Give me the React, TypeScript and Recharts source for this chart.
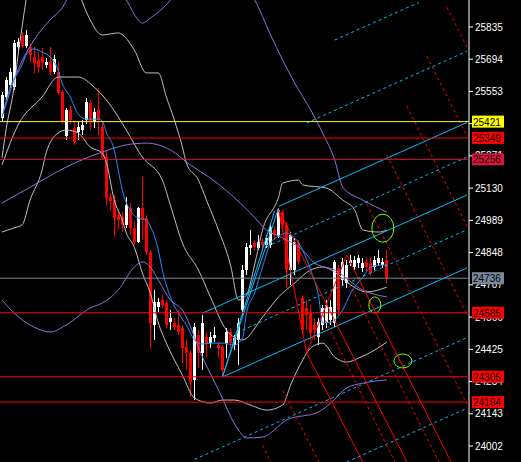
import { Bar, ComposedChart, Line, ReferenceDot, ReferenceLine, XAxis, YAxis } from "recharts";

// candles, one per slot (slot 0 = leftmost bar)
const opens = [
  25437, 25529, 25581, 25572, 25747, 25795, 25752, 25747, 25704, 25690,
  25704, 25669, 25682, 25638, 25638, 25550, 25358, 25472, 25393, 25375,
  25384, 25428, 25502, 25419, 25472, 25397, 25266, 25091, 25078, 25012,
  25004, 24969, 25043, 24956, 24894, 25043, 24999, 24851, 24531, 24610,
  24641, 24627, 24544, 24540, 24531, 24518, 24435, 24409, 24291, 24487,
  24409, 24479, 24452, 24474, 24444, 24435, 24452, 24501, 24444, 24466,
  24597, 24772, 24868, 24890, 24868, 24894, 24881, 24881, 24947, 24925,
  25026, 24969, 24772, 24772, 24890, 24649, 24606, 24584, 24531, 24479,
  24531, 24540, 24553, 24540, 24781, 24728, 24715, 24802, 24785, 24802,
  24781, 24807, 24802, 24785, 24802, 24794, 24816,
];
const highs = [
  25550, 25616, 25655, 25778, 25787, 25813, 25822, 25760, 25747, 25725,
  25743, 25699, 25747, 25712, 25682, 25559, 25480, 25489, 25419, 25419,
  25428, 25524, 25515, 25480, 25568, 25419, 25297, 25109, 25100, 25034,
  25026, 25091, 25065, 24982, 25047, 25179, 25012, 24859, 24684, 24649,
  24662, 24641, 24597, 24562, 24597, 24531, 24466, 24422, 24540, 24509,
  24575, 24501, 24501, 24522, 24457, 24444, 24518, 24518, 24487, 24562,
  24794, 24890, 24947, 24903, 24925, 24912, 24925, 24969, 24964, 25043,
  25034, 24982, 24938, 24912, 24903, 24662, 24641, 24619, 24562, 24562,
  24619, 24641, 24641, 24816, 24794, 24824, 24816, 24837, 24833, 24837,
  24824, 24824, 24824, 24833, 24859, 24824, 24859,
];
const lows = [
  25424, 25515, 25568, 25559, 25734, 25743, 25743, 25682, 25634, 25634,
  25647, 25655, 25625, 25629, 25537, 25410, 25340, 25410, 25319, 25340,
  25362, 25410, 25384, 25393, 25362, 25253, 25056, 25034, 24916, 24947,
  24938, 24956, 24925, 24881, 24890, 24903, 24837, 24431, 24466, 24588,
  24606, 24518, 24509, 24509, 24487, 24365, 24334, 24216, 24203, 24343,
  24334, 24391, 24431, 24457, 24387, 24308, 24387, 24431, 24422, 24356,
  24575, 24750, 24837, 24859, 24859, 24859, 24868, 24868, 24903, 24912,
  24938, 24693, 24706, 24750, 24794, 24487, 24509, 24466, 24466, 24444,
  24509, 24518, 24531, 24522, 24575, 24706, 24693, 24789, 24772, 24781,
  24763, 24763, 24746, 24772, 24789, 24781, 24715,
];
const closes = [
  25537, 25603, 25638, 25765, 25769, 25752, 25800, 25712, 25677, 25660,
  25677, 25682, 25638, 25695, 25546, 25419, 25472, 25428, 25332, 25397,
  25406, 25507, 25419, 25463, 25428, 25266, 25087, 25074, 24999, 24991,
  24969, 25056, 24956, 24894, 25043, 24991, 24851, 24540, 24632, 24632,
  24619, 24531, 24562, 24522, 24501, 24431, 24409, 24282, 24522, 24409,
  24540, 24452, 24479, 24487, 24431, 24334, 24501, 24452, 24474, 24540,
  24772, 24872, 24881, 24872, 24894, 24881, 24912, 24960, 24925, 25034,
  24969, 24772, 24925, 24894, 24807, 24509, 24575, 24496, 24509, 24544,
  24606, 24619, 24610, 24807, 24597, 24807, 24794, 24816, 24816, 24824,
  24802, 24785, 24759, 24816, 24824, 24807, 24737,
];

const priceTicks = [25835, 25694, 25553, 25412, 25271, 25130, 24989, 24848, 24707, 24566, 24425, 24284, 24143, 24002];

type Pt = [number, number];

// indicator lines, [slot, price]
const maLine: Pt[] = [
  [0, 25441], [2, 25568], [5, 25669], [6, 25712], [8, 25739], [10, 25725], [12, 25704], [14, 25647],
  [15, 25590], [17, 25529], [19, 25454], [21, 25432], [24, 25432], [25, 25424], [26, 25375], [28, 25297],
  [29, 25209], [30, 25122], [32, 25034], [34, 24999], [36, 24991], [37, 24964], [39, 24859], [40, 24772],
  [42, 24654], [44, 24584], [46, 24531], [48, 24466], [50, 24448], [52, 24452], [55, 24452], [58, 24444],
  [60, 24474], [61, 24584], [63, 24671], [65, 24785], [67, 24890], [69, 24921], [71, 24934], [73, 24912],
  [75, 24859], [77, 24772], [79, 24654], [80, 24540], [82, 24544], [85, 24597], [87, 24671], [90, 24741],
  [92, 24785], [95, 24794], [96, 24794],
];
const bandUpper: Pt[] = [
  [0, 25262], [1, 25384], [3, 25572], [4, 25712], [5, 25835], [6, 25953], [7, 26062], [10, 26216],
  [15, 26259], [19, 25997], [22, 25866], [25, 25800], [29, 25809], [33, 25734], [36, 25634], [39, 25634],
  [41, 25529], [43, 25428], [45, 25310], [46, 25240], [49, 25165], [51, 25078], [54, 24947], [57, 24794],
  [59, 24641], [61, 24662], [63, 24794], [65, 24947], [69, 25091], [70, 25152], [74, 25165], [75, 25144],
  [81, 25130], [85, 25078], [88, 25034], [90, 24947], [94, 24938], [96, 24947],
];
const bandMid: Pt[] = [
  [0, 25231], [4, 25406], [10, 25529], [14, 25616], [19, 25616], [23, 25572], [27, 25494], [31, 25384],
  [35, 25266], [40, 25165], [42, 25056], [45, 24890], [49, 24772], [52, 24654], [56, 24509], [60, 24466],
  [65, 24566], [69, 24654], [73, 24715], [77, 24772], [80, 24785], [83, 24763], [87, 24706], [91, 24676],
  [96, 24697],
];
const bandLower: Pt[] = [
  [0, 24938], [3, 24956], [5, 24969], [7, 25078], [10, 25209], [11, 25284], [14, 25371], [16, 25384],
  [19, 25371], [22, 25310], [25, 25284], [26, 25244], [28, 25078], [30, 24991], [31, 24934], [33, 24872],
  [35, 24759], [37, 24671], [39, 24540], [41, 24452], [45, 24312], [48, 24212], [52, 24190], [55, 24203],
  [58, 24203], [62, 24181], [66, 24159], [70, 24181], [72, 24269], [75, 24378], [77, 24431], [80, 24452],
  [83, 24391], [86, 24369], [89, 24387], [93, 24422], [96, 24457],
];
const envUpper: Pt[] = [
  [0, 25441], [4, 25647], [8, 25778], [12, 25866], [15, 25918], [18, 26019], [25, 26128], [29, 26006],
  [31, 25953], [34, 25866], [35, 25852], [37, 25874], [42, 25953], [46, 26062], [55, 26062], [61, 25997],
  [63, 25953], [67, 25800], [73, 25590], [77, 25472], [80, 25371], [83, 25253], [85, 25135], [90, 25078],
  [96, 25026],
];
const envMid: Pt[] = [
  [0, 25065], [8, 25144], [16, 25222], [25, 25288], [31, 25319], [36, 25327], [42, 25297], [47, 25231],
  [52, 25174], [62, 25021], [66, 24947], [70, 24912], [75, 24859], [78, 24802], [83, 24772], [90, 24684],
  [96, 24654],
];
const envLower: Pt[] = [
  [0, 24641], [3, 24584], [8, 24522], [12, 24501], [16, 24531], [22, 24606], [25, 24627], [29, 24684],
  [33, 24785], [35, 24807], [37, 24785], [39, 24728], [42, 24641], [45, 24597], [50, 24391], [54, 24247],
  [59, 24072], [61, 24037], [65, 24041], [71, 24116], [79, 24151], [82, 24190], [86, 24256], [90, 24277],
  [96, 24291],
];

// horizontal price levels
const levelPrices = [25421, 25349, 25256, 24736, 24585, 24305, 24194];
const levelColors = ["#ffff00", "#ff0000", "#dc143c", "#778899", "#ff0000", "#ff0000", "#ff0000"];

// pitchfork / zigzag segments, [[slot, price], [slot, price]]
const blueSolid: Pt[][] = [
  [[69, 25050], [116, 25417]],
  [[50, 24583], [116, 25100]],
  [[55, 24304], [116, 24781]],
  [[55, 24304], [69, 25043]],
  [[55, 24304], [68, 25030]],
];
const blueDashed: Pt[][] = [
  [[83, 25778], [104, 25942]],
  [[76, 25415], [116, 25729]],
  [[66, 24874], [116, 25266]],
  [[60, 24509], [116, 24948]],
  [[48, 23943], [116, 24476]],
  [[86, 23932], [116, 24167]],
];
const redSolid: Pt[][] = [
  [[69, 25034], [76, 24409]],
  [[76, 24409], [86, 24837]],
  [[69, 25034], [101, 23932]],
  [[76, 24409], [90, 23932]],
  [[86, 24837], [112, 23932]],
];
const redDashed: Pt[][] = [
  [[111, 25922], [116, 25747]],
  [[106, 25708], [116, 25358]],
  [[101, 25489], [116, 24964]],
  [[96, 25275], [116, 24575]],
  [[91, 25061], [116, 24185]],
  [[86, 24737], [109, 23932]],
  [[80, 24575], [98, 23932]],
  [[70, 24247], [79, 23932]],
  [[65, 24006], [67, 23932]],
];
const markSlots = [95, 93, 100];
const markPrices = [24955, 24619, 24374];
const markRadii: Pt[] = [[11, 14], [6, 8], [9, 7]];

const SLOTS = 117;

type Row = Record<string, any>;
const rows: Row[] = Array.from({ length: SLOTS }, (_, i) => {
  const row: Row = { i };
  if (i < opens.length) {
    row.open = opens[i];
    row.high = highs[i];
    row.low = lows[i];
    row.close = closes[i];
    row.hl = [lows[i], highs[i]];
  }
  return row;
});
const addSeries = (key: string, pts: Pt[]) => pts.forEach(([s, v]) => (rows[s][key] = v));
addSeries("ma", maLine);
addSeries("bbU", bandUpper);
addSeries("bbM", bandMid);
addSeries("bbL", bandLower);
addSeries("envU", envUpper);
addSeries("envM", envMid);
addSeries("envL", envLower);

const Candle = (props: any) => {
  const { x, y, width, height, payload } = props;
  if (payload == null || payload.open == null) return null;
  const { open, close, high, low } = payload;
  const top = Math.min(y, y + height);
  const h = Math.abs(height);
  const color = close >= open ? "#ffffff" : "#ff0000";
  const k = high > low ? h / (high - low) : 0;
  const bodyTop = top + (high - Math.max(open, close)) * k;
  const bodyH = Math.max(1, Math.abs(open - close) * k);
  const cx = Math.floor(x + width / 2);
  return (
    <g shapeRendering="crispEdges">
      <rect x={cx} y={top} width={1} height={Math.max(1, h)} fill={color} />
      <rect x={cx - 1} y={bodyTop} width={3} height={bodyH} fill={color} />
    </g>
  );
};

const PriceTag = (props: any) => {
  const { viewBox, price, tagColor } = props;
  if (!viewBox) return null;
  const left = viewBox.x + viewBox.width + 3;
  return (
    <g>
      <rect x={left} y={viewBox.y - 6} width={32} height={12} fill={tagColor} />
      <text x={left + 1} y={viewBox.y + 4} fontSize={10} fill="#000" fontFamily="Liberation Sans, Arial, sans-serif">
        {price}
      </text>
    </g>
  );
};

const Ring = (props: any) => {
  const { cx, cy, rx, ry } = props;
  return <ellipse cx={cx} cy={cy} rx={rx} ry={ry} fill="none" stroke="#7cfc00" strokeWidth={1} />;
};

const indicator = (key: string, color: string) => (
  <Line
    key={key}
    dataKey={key}
    type="monotone"
    stroke={color}
    strokeWidth={1}
    dot={false}
    activeDot={false}
    connectNulls
    isAnimationActive={false}
  />
);

const segment = (seg: Pt[], color: string, dashed: boolean, key: string) => (
  <ReferenceLine
    key={key}
    segment={[{ x: seg[0][0], y: seg[0][1] }, { x: seg[1][0], y: seg[1][1] }]}
    stroke={color}
    strokeWidth={1}
    strokeDasharray={dashed ? "3 3" : undefined}
  />
);

export default function App() {
  return (
    <div style={{ position: "absolute", left: 0, top: 0, width: 521, height: 462, background: "#000" }}>
      <ComposedChart
        width={521}
        height={462}
        data={rows}
        margin={{ top: 0, right: 0, bottom: 0, left: 0 }}
        barCategoryGap={0}
        barGap={0}
      >
        <XAxis dataKey="i" type="category" hide />
        <YAxis
          orientation="right"
          width={52}
          type="number"
          domain={[23932, 25953]}
          allowDataOverflow
          ticks={priceTicks}
          interval={0}
          tickSize={4}
          tickMargin={2}
          axisLine={{ stroke: "#ffffff" }}
          tickLine={{ stroke: "#ffffff" }}
          tick={{ fill: "#ffffff", fontSize: 10, fontFamily: "Liberation Sans, Arial, sans-serif" }}
        />
        {indicator("bbU", "#c0c0c0")}
        {indicator("bbM", "#c0c0c0")}
        {indicator("bbL", "#c0c0c0")}
        {indicator("envU", "#9370db")}
        {indicator("envM", "#9370db")}
        {indicator("envL", "#9370db")}
        {indicator("ma", "#1e90ff")}
        <Bar dataKey="hl" shape={<Candle />} isAnimationActive={false} />
        {levelPrices.map((p, idx) => (
          <ReferenceLine
            key={`lvl-${p}`}
            y={p}
            stroke={levelColors[idx]}
            strokeWidth={1}
            zIndex={2000}
            label={<PriceTag price={p} tagColor={levelColors[idx]} />}
          />
        ))}
        {blueSolid.map((s, idx) => segment(s, "#00bfff", false, `bs-${idx}`))}
        {blueDashed.map((s, idx) => segment(s, "#00bfff", true, `bd-${idx}`))}
        {redSolid.map((s, idx) => segment(s, "#ff0000", false, `rs-${idx}`))}
        {redDashed.map((s, idx) => segment(s, "#ff0000", true, `rd-${idx}`))}
        {markSlots.map((s, idx) => (
          <ReferenceDot
            key={`mk-${idx}`}
            x={s}
            y={markPrices[idx]}
            r={1}
            shape={<Ring rx={markRadii[idx][0]} ry={markRadii[idx][1]} />}
          />
        ))}
      </ComposedChart>
    </div>
  );
}
